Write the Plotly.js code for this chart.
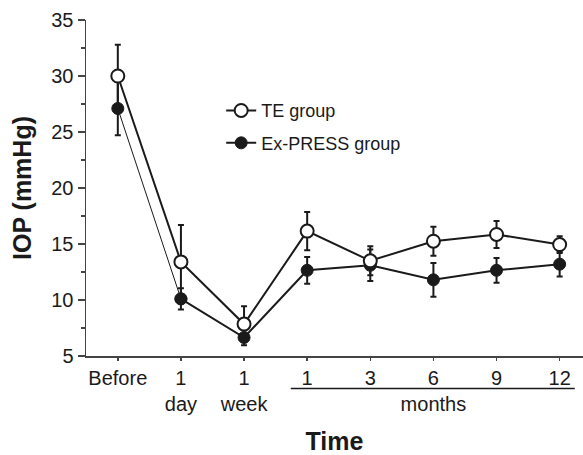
<!DOCTYPE html>
<html>
<head>
<meta charset="utf-8">
<script src="https://cdn.plot.ly/plotly-3.0.1.min.js"></script>
<style>html,body{margin:0;padding:0;background:#fff;}#chart{width:583px;height:455px;}</style>
</head>
<body>
<div id="chart"></div>
<script>
// Data
const categories = ["Before", "1 day", "1 week", "1 month", "3 months", "6 months", "9 months", "12 months"];
const tickLine1 = ["Before", "1", "1", "1", "3", "6", "9", "12"];
const tickLine2 = ["", "day", "week", "", "", "months", "", ""];
const teMean = [30.0, 13.4, 7.85, 16.15, 13.5, 15.25, 15.85, 14.95];
const teSD = [2.8, 3.3, 1.6, 1.7, 1.3, 1.3, 1.2, 0.75];
const exMean = [27.1, 10.1, 6.65, 12.65, 13.1, 11.8, 12.65, 13.2];
const exSD = [2.4, 0.95, 0.7, 1.2, 1.4, 1.5, 1.1, 1.1];

const FONT = "Liberation Sans, Arial, sans-serif";
const INK = "#1a1a1a";
const AX = "#444444";

const tickText = tickLine1.map((t, i) => tickLine2[i] ? t + "<br>" + tickLine2[i] : t);

const errStyle = {type: "data", visible: true, thickness: 2, width: 3, color: INK};

const traces = [
  // thin first segment of the Ex-PRESS line with its first marker
  {
    x: categories.slice(0, 2), y: exMean.slice(0, 2),
    type: "scatter", mode: "lines+markers", showlegend: false, hoverinfo: "skip",
    legendgroup: "ex",
    line: {color: INK, width: 1},
    marker: {symbol: "circle", size: 12, color: INK, line: {color: INK, width: 1}},
    error_y: Object.assign({array: [exSD[0], 0]}, errStyle)
  },
  // Ex-PRESS group (thick line from 1 day onward)
  {
    name: "Ex-PRESS group", legendrank: 2, legendgroup: "ex",
    x: categories.slice(1), y: exMean.slice(1),
    type: "scatter", mode: "lines+markers",
    line: {color: INK, width: 2},
    marker: {symbol: "circle", size: 12, color: INK, line: {color: INK, width: 1}},
    error_y: Object.assign({array: exSD.slice(1)}, errStyle)
  },
  // TE group
  {
    name: "TE group", legendrank: 1, legendgroup: "te",
    x: categories, y: teMean,
    type: "scatter", mode: "lines+markers",
    line: {color: INK, width: 2},
    marker: {symbol: "circle", size: 13, color: "#ffffff", line: {color: INK, width: 2}},
    error_y: Object.assign({array: teSD}, errStyle)
  }
];

const layout = {
  width: 583, height: 455,
  margin: {l: 86, r: 0, t: 20, b: 99},
  paper_bgcolor: "#ffffff", plot_bgcolor: "#ffffff",
  font: {family: FONT, size: 20, color: INK},
  showlegend: true,
  legend: {
    x: 0.272, y: 0.785, xanchor: "left", yanchor: "top",
    bgcolor: "rgba(0,0,0,0)", borderwidth: 0,
    font: {family: FONT, size: 18, color: INK},
    tracegroupgap: 6, itemwidth: 30
  },
  xaxis: {
    type: "category", categoryorder: "array", categoryarray: categories,
    range: [-0.504, 7.37],
    tickmode: "array", tickvals: categories, ticktext: tickText,
    showline: true, linecolor: AX, linewidth: 1.5,
    ticks: "outside", ticklen: 3, tickwidth: 1.5, tickcolor: AX,
    showgrid: false, zeroline: false,
    tickfont: {family: FONT, size: 20, color: INK},
    title: {text: "<b>Time</b>", font: {family: FONT, size: 25, color: INK}, standoff: 45}
  },
  yaxis: {
    range: [5, 35], dtick: 5, tick0: 5,
    showline: true, linecolor: AX, linewidth: 1.5,
    ticks: "outside", ticklen: 7, tickwidth: 1.5, tickcolor: AX,
    minor: {dtick: 2.5, ticks: "outside", ticklen: 4, tickwidth: 1.5, tickcolor: AX, showgrid: false},
    showgrid: false, zeroline: false,
    tickfont: {family: FONT, size: 20, color: INK},
    title: {text: "<b>IOP (mmHg)</b>", font: {family: FONT, size: 25, color: INK}, standoff: 12}
  },
  shapes: [{
    type: "line", xref: "x", yref: "paper",
    x0: 2.74, x1: 7.24, y0: -0.097, y1: -0.097,
    line: {color: INK, width: 1.5}
  }]
};

Plotly.newPlot("chart", traces, layout, {staticPlot: true, displayModeBar: false});
</script>
</body>
</html>
